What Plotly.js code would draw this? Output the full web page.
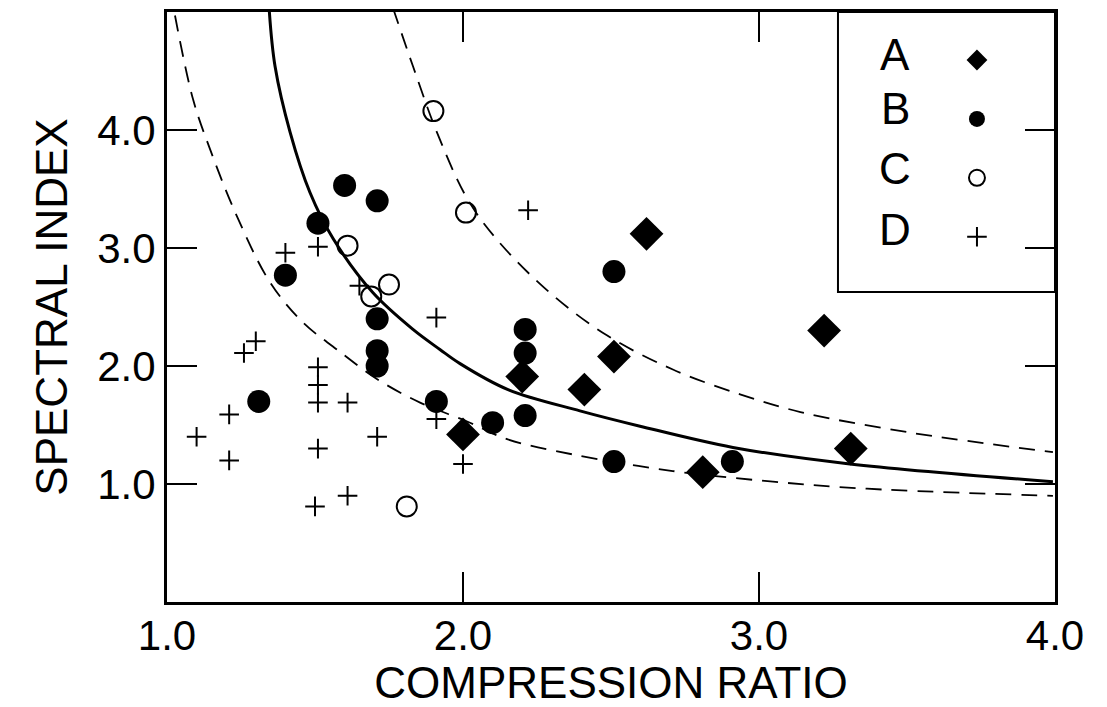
<!DOCTYPE html>
<html>
<head>
<meta charset="utf-8">
<script src="https://cdn.plot.ly/plotly-3.0.1.min.js"></script>
<style>html,body{margin:0;padding:0;background:#fff;}#chart{width:1107px;height:707px;}</style>
</head>
<body>
<div id="chart"></div>
<script>
// Series A (filled diamonds)
var A_x = [2.00, 2.20, 2.41, 2.51, 2.62, 2.81, 3.22, 3.31];
var A_y = [1.42, 1.91, 1.80, 2.08, 3.12, 1.10, 2.30, 1.30];
// Series B (filled circles)
var B_x = [1.40, 1.51, 1.60, 1.71, 1.31, 1.71, 1.71, 1.71, 1.91, 2.10, 2.21, 2.21, 2.21, 2.51, 2.51, 2.91];
var B_y = [2.77, 3.21, 3.53, 3.40, 1.70, 2.40, 2.13, 2.00, 1.70, 1.52, 2.31, 2.11, 1.58, 2.80, 1.19, 1.19];
// Series C (open circles)
var C_x = [1.90, 2.01, 1.61, 1.75, 1.69, 1.81];
var C_y = [4.16, 3.30, 3.02, 2.69, 2.59, 0.81];
// Series D (plus signs)
var D_x = [1.40, 1.51, 1.65, 1.91, 1.30, 1.26, 1.51, 1.51, 1.51, 1.61, 1.21, 1.10, 1.21, 1.51, 1.71, 1.91, 2.00, 1.61, 1.50, 2.22];
var D_y = [2.96, 3.01, 2.68, 2.41, 2.21, 2.11, 1.99, 1.84, 1.69, 1.69, 1.59, 1.40, 1.20, 1.30, 1.40, 1.55, 1.17, 0.90, 0.81, 3.32];

// Curves
var mid_x = [1.345, 1.365, 1.416, 1.483, 1.561, 1.696, 1.831, 1.922, 1.99, 2.152, 2.395, 2.598, 2.912, 3.307, 3.993];
var mid_y = [5.03, 4.54, 3.98, 3.47, 3.08, 2.62, 2.31, 2.14, 2.02, 1.80, 1.62, 1.49, 1.31, 1.17, 1.02];
var low_x = [1.027, 1.088, 1.145, 1.236, 1.348, 1.459, 1.574, 1.709, 1.855, 2.014, 2.149, 2.372, 2.709, 3.047, 3.365, 3.993];
var low_y = [4.97, 4.26, 3.84, 3.27, 2.71, 2.37, 2.14, 1.89, 1.69, 1.53, 1.38, 1.25, 1.11, 1.02, 0.96, 0.90];
var up_x = [1.764, 1.831, 1.912, 2.014, 2.115, 2.294, 2.486, 2.709, 2.936, 3.14, 3.50, 3.993];
var up_y = [5.03, 4.54, 3.98, 3.42, 3.07, 2.62, 2.26, 1.97, 1.76, 1.61, 1.44, 1.27];

var series_names = ['A', 'B', 'C', 'D'];
var x_ticks = [1, 2, 3, 4];
var x_tick_labels = ['1.0', '2.0', '3.0', '4.0'];
var y_ticks = [1, 2, 3, 4];
var y_tick_labels = ['1.0', '2.0', '3.0', '4.0'];

var FONT = 'Liberation Sans, Arial, sans-serif';

var traces = [
  {x: low_x, y: low_y, mode: 'lines', line: {color: '#000', width: 1.8, dash: '16px,10px', shape: 'spline'}, showlegend: false, hoverinfo: 'skip'},
  {x: up_x, y: up_y, mode: 'lines', line: {color: '#000', width: 1.8, dash: '16px,10px', shape: 'spline'}, showlegend: false, hoverinfo: 'skip'},
  {x: mid_x, y: mid_y, mode: 'lines', line: {color: '#000', width: 3, shape: 'spline'}, showlegend: false, hoverinfo: 'skip'},
  {x: A_x, y: A_y, mode: 'markers', name: ' ', marker: {symbol: 'diamond', size: 26, color: '#000'}},
  {x: B_x, y: B_y, mode: 'markers', name: ' ', marker: {symbol: 'circle', size: 23, color: '#000'}},
  {x: C_x, y: C_y, mode: 'markers', name: ' ', marker: {symbol: 'circle-open', size: 20, color: '#000', line: {width: 2, color: '#000'}}},
  {x: D_x, y: D_y, mode: 'markers', name: ' ', marker: {symbol: 'cross-thin-open', size: 14, color: '#000', line: {width: 2, color: '#000'}}}
];

var letterY = [0.928, 0.836, 0.734, 0.632];
var annotations = series_names.map(function (s, i) {
  return {text: s, xref: 'paper', yref: 'paper', x: 0.82, y: letterY[i], xanchor: 'center', yanchor: 'middle',
          showarrow: false, font: {family: FONT, size: 44, color: '#000'}};
});

var axisCommon = {
  showgrid: false, zeroline: false, showline: true, linecolor: '#000', linewidth: 3,
  mirror: 'ticks', ticks: 'inside', ticklen: 30, tickwidth: 2, tickcolor: '#000',
  tickfont: {family: FONT, size: 42, color: '#000'}
};

var layout = {
  width: 1107, height: 707,
  margin: {l: 167, r: 52, t: 12, b: 105},
  paper_bgcolor: '#fff', plot_bgcolor: '#fff',
  font: {family: FONT, color: '#000'},
  xaxis: Object.assign({}, axisCommon, {
    range: [1, 4], tickvals: x_ticks, ticktext: x_tick_labels, ticklabelstandoff: -5,
    title: {text: 'COMPRESSION RATIO', font: {family: FONT, size: 44, color: '#000'}, standoff: 22}
  }),
  yaxis: Object.assign({}, axisCommon, {
    range: [0, 5], tickvals: y_ticks, ticktext: y_tick_labels,
    title: {text: 'SPECTRAL INDEX', font: {family: FONT, size: 44, color: '#000'}}
  }),
  showlegend: true,
  legend: {x: 0.8896, y: 0.977, xanchor: 'left', yanchor: 'top', bgcolor: 'rgba(0,0,0,0)', borderwidth: 0,
           font: {family: FONT, size: 43, color: '#000'}, tracegroupgap: 0},
  shapes: [{type: 'rect', xref: 'paper', yref: 'paper', x0: 0.7556, x1: 1, y0: 0.5254, y1: 1,
            line: {color: '#000', width: 2}, fillcolor: 'rgba(0,0,0,0)'}],
  annotations: annotations
};

Plotly.newPlot('chart', traces, layout, {displayModeBar: false, staticPlot: true});
</script>
</body>
</html>
